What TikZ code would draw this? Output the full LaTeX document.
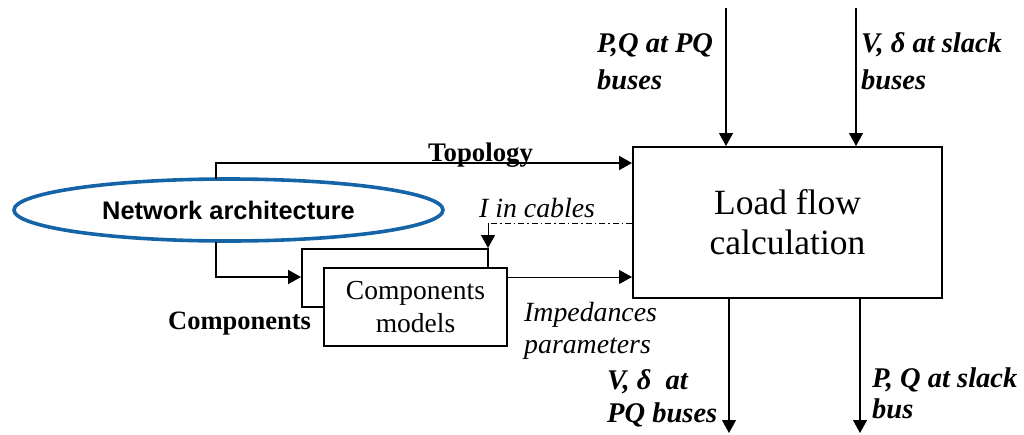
\documentclass[tikz,border=0pt]{standalone}
\usepackage{fontspec}
\setmainfont{Liberation Serif}
\setsansfont{Liberation Sans}
\usetikzlibrary{arrows.meta,shapes.geometric}
\definecolor{netblue}{RGB}{22,100,168}
\tikzset{
  lbl/.style={inner sep=0pt, anchor=base west, font=\fontsize{28.5}{33}\selectfont\bfseries\itshape},
  ilbl/.style={inner sep=0pt, anchor=base west, font=\fontsize{27.8}{33}\selectfont\itshape},
  blbl/.style={inner sep=0pt, anchor=base west, font=\fontsize{26.5}{33}\selectfont\bfseries},
  boxline/.style={line width=2pt},
  tip/.style={-{Triangle[length=13pt,width=14pt]}},
  thickconn/.style={line width=2pt, tip},
  thinconn/.style={line width=1.2pt, tip},
}
\begin{document}
\begin{tikzpicture}[x=1pt,y=-1pt]
\useasboundingbox (0,0) rectangle (1024,434);
% main box
\node[draw, boxline, minimum width=309pt, minimum height=151pt, inner sep=0pt,
      align=center, font=\fontsize{35.5}{40}\selectfont] (lf) at (787.5,222.5) {Load flow\\calculation};
% ellipse
\node[ellipse, draw=netblue, line width=3.6pt, minimum width=429pt, minimum height=62pt, inner sep=0pt,
      font=\sffamily\bfseries\fontsize{25.4}{28}\selectfont] (net) at (228.5,210) {Network architecture};
% back box
\node[draw, boxline, minimum width=186pt, minimum height=58pt, inner sep=0pt] (back) at (395,278) {};
% front box
\node[draw, boxline, fill=white, minimum width=183pt, minimum height=78pt, inner sep=0pt,
      align=center, font=\fontsize{27.5}{33}\selectfont] (comp) at (415.5,307) {Components\\models};
% coordinates
\coordinate (n1) at (216,178.5);
\coordinate (n2) at (216,241.5);
\coordinate (ty) at (0,163);
\coordinate (cy) at (0,277);
\coordinate (dy) at (0,223);
\coordinate (dx) at (488,0);
\coordinate (in1) at (726,8);
\coordinate (in2) at (856,8);
\coordinate (out1) at (729,433);
\coordinate (out2) at (860,433);
% connectors
\draw[thickconn] (n1) |- (lf.west |- ty);
\draw[thickconn] (n2) |- (back.west |- cy);
\draw[line width=1pt, tip] (comp.east |- cy) -- (lf.west |- cy);
\draw[line width=1pt, dash pattern=on 6pt off 3pt on 1.5pt off 3pt] (lf.west |- dy) -- (dx |- dy);
\draw[line width=1pt, tip] (dx |- dy) -- (dx |- back.north);
\draw[thinconn] (in1) -- (in1 |- lf.north);
\draw[thinconn] (in2) -- (in2 |- lf.north);
\draw[thinconn] (out1 |- lf.south) -- (out1);
\draw[thinconn] (out2 |- lf.south) -- (out2);
% labels
\node[blbl, font=\fontsize{26.8}{30}\selectfont\bfseries] (topo) at (428,161) {Topology};
\node[ilbl] (icab) at (479,217) {I in cables};
\node[ilbl] (imp1) at (524,321) {Impedances};
\node[ilbl] (imp2) at (524,353) {parameters};
\node[blbl] (cmp) at (168,329) {Components};
\node[lbl] (pq1) at (597,52) {P,Q at PQ};
\node[lbl] (pq2) at (597,89) {buses};
\node[lbl] (vs1) at (861,52) {V, δ at slack};
\node[lbl] (vs2) at (861,89) {buses};
\node[lbl] (vd1) at (607,389) {V, δ\ \ at};
\node[lbl] (vd2) at (607,422) {PQ buses};
\node[lbl] (ps1) at (872,387) {P, Q at slack};
\node[lbl] (ps2) at (872,418) {bus};
\end{tikzpicture}
\end{document}
